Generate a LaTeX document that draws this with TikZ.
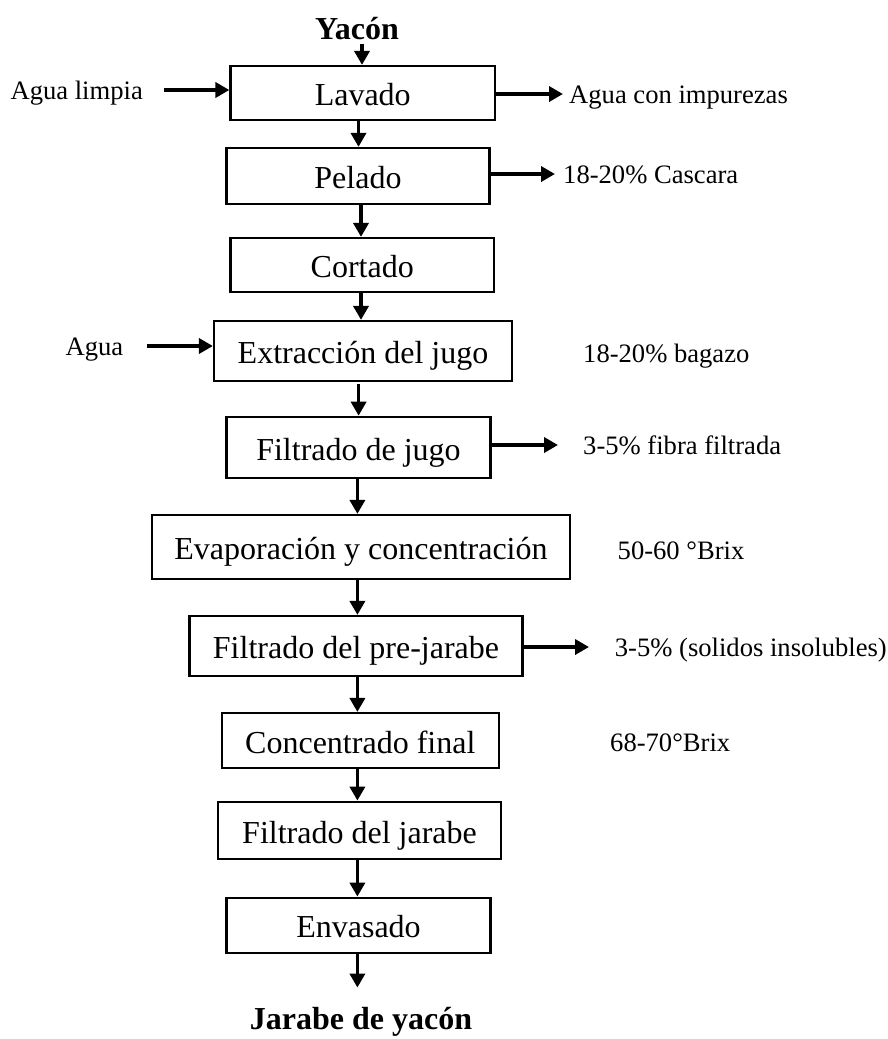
\documentclass[tikz,border=0pt]{standalone}
\usepackage{fontspec}
\setmainfont{Liberation Serif}
\usetikzlibrary{arrows.meta}
\begin{document}
\begin{tikzpicture}[x=1pt,y=-1pt]
\tikzset{
  stage/.style={draw, line width=2.2pt, rectangle, inner sep=0pt,
    font=\fontsize{32}{38}\selectfont, text height=30pt, text depth=4.6pt},
  side/.style={inner sep=0pt, font=\fontsize{26.6}{32}\selectfont,
    text height=24pt, text depth=5.3pt},
  title/.style={inner sep=0pt, font=\bfseries\fontsize{32}{38}\selectfont},
  flow/.style={line width=3.5pt, -{Triangle[length=14pt,width=15pt]}},
}
\useasboundingbox (0,0) rectangle (888,1039);

% columns of the vertical flow arrows
\coordinate (k1) at (362,0);
\coordinate (k2) at (358.5,0);
\coordinate (k3) at (361,0);
\coordinate (k4) at (358.6,0);
\coordinate (k5) at (357.4,0);

% process stages
\node[title, anchor=base] (yacon) at (357,39) {Yacón};
\node[stage, minimum width=264.5pt, minimum height=54pt] (lavado) at (362.75,93) {Lavado};
\node[stage, minimum width=263pt, minimum height=56pt] (pelado) at (358,176) {Pelado};
\node[stage, minimum width=263.5pt, minimum height=54pt] (cortado) at (362.25,265) {Cortado};
\node[stage, minimum width=298pt, minimum height=60pt] (extr) at (363,351) {Extracción del jugo};
\node[stage, minimum width=264pt, minimum height=61pt] (filtjugo) at (358.5,447.3) {Filtrado de jugo\hspace{16pt}};
\node[stage, minimum width=418pt, minimum height=64pt] (evap) at (361,547) {Evaporación y concentración};
\node[stage, minimum width=333pt, minimum height=60pt] (prejar) at (356,646) {Filtrado del pre-jarabe};
\node[stage, minimum width=276.6pt, minimum height=54.7pt] (concf) at (360.3,740.4) {Concentrado final};
\node[stage, minimum width=283pt, minimum height=57.6pt] (filtjar) at (359.5,830.5) {Filtrado del jarabe};
\node[stage, minimum width=264pt, minimum height=55pt] (envas) at (358.5,925.2) {Envasado};
\node[title, anchor=base] (jarabe) at (361,1029) {Jarabe de yacón};

% inputs, outputs and notes
\node[side, anchor=east] (aguaL) at (143,90) {Agua limpia};
\node[side, anchor=west] (imp) at (569,94) {Agua con impurezas};
\node[side, anchor=west] (cas) at (563,174) {18-20\% Cascara};
\node[side, anchor=east] (agua) at (123.5,346) {Agua};
\node[side, anchor=west] (bag) at (583,353) {18-20\% bagazo};
\node[side, anchor=west] (fib) at (583,445) {3-5\% fibra filtrada};
\node[side, anchor=west] (brixA) at (617.5,550) {50-60 °Brix};
\node[side, anchor=west] (sol) at (614.7,647) {3-5\% (solidos insolubles)};
\node[side, anchor=west] (brixB) at (610,742) {68-70°Brix};

% main flow
\draw[flow, shorten <=4pt] (yacon.south -| k1) -- (lavado.north -| k1);
\draw[flow] (lavado.south -| k2) -- (pelado.north -| k2);
\draw[flow] (pelado.south -| k3) -- (cortado.north -| k3);
\draw[flow] (cortado.south -| k3) -- (extr.north -| k3);
\draw[flow, shorten <=2pt] (extr.south -| k4) -- (filtjugo.north -| k4);
\draw[flow] (filtjugo.south -| k5) -- (evap.north -| k5);
\draw[flow] (evap.south -| k5) -- (prejar.north -| k5);
\draw[flow] (prejar.south -| k5) -- (concf.north -| k5);
\draw[flow] (concf.south -| k5) -- (filtjar.north -| k5);
\draw[flow] (filtjar.south -| k5) -- (envas.north -| k5);
\draw[flow, shorten >=19pt] (envas.south -| k5) -- (jarabe.north -| k5);

% side streams
\draw[flow, shorten <=21pt] (aguaL.east) -- (aguaL.east -| lavado.west);
\draw[flow, shorten >=6pt] (imp.west -| lavado.east) -- (imp.west);
\draw[flow, shorten >=8pt] (cas.west -| pelado.east) -- (cas.west);
\draw[flow, shorten <=23.5pt] (agua.east) -- (agua.east -| extr.west);
\draw[flow, shorten >=25pt] (fib.west -| filtjugo.east) -- (fib.west);
\draw[flow, shorten >=25.7pt] (sol.west -| prejar.east) -- (sol.west);
\end{tikzpicture}
\end{document}
